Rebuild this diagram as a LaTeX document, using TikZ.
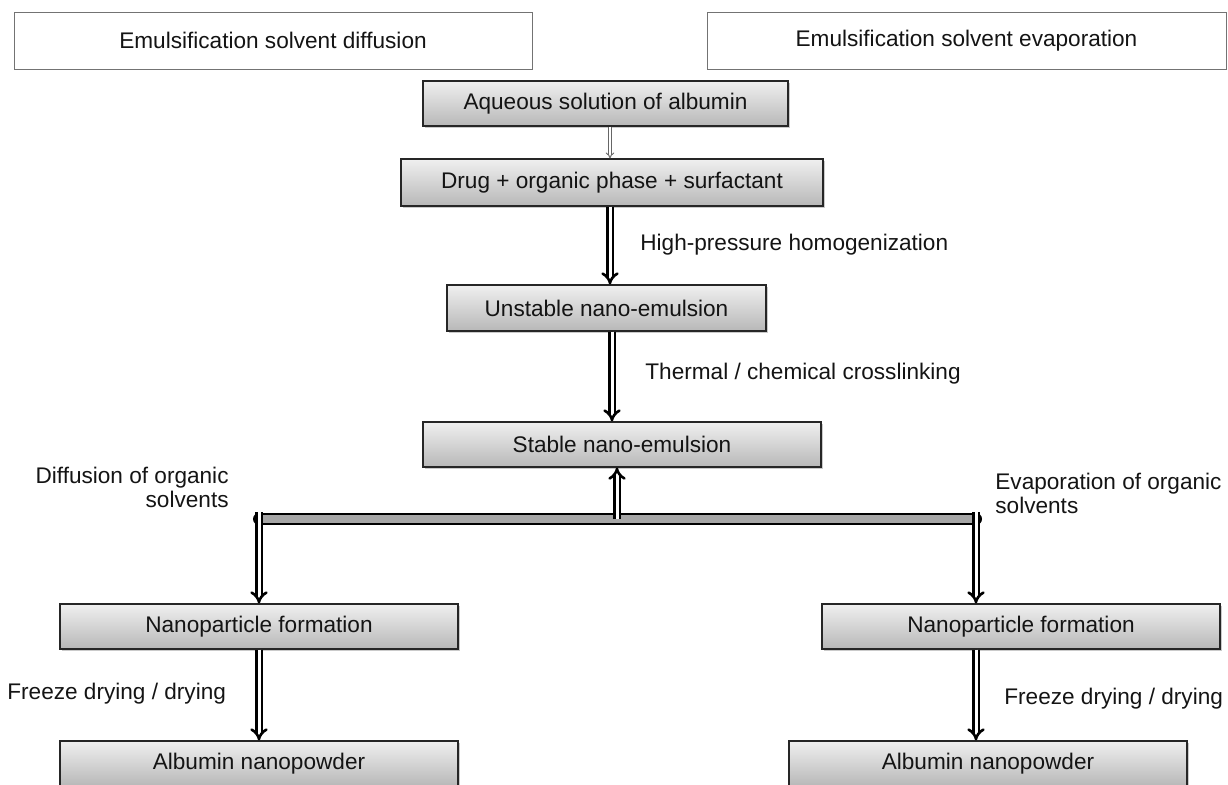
\documentclass[tikz,border=0pt]{standalone}
\usepackage{fontspec}
\setmainfont{Liberation Sans}
\usetikzlibrary{arrows.meta,shadows,calc}
\begin{document}
\begin{tikzpicture}[x=0.5pt,y=-0.5pt,
  every node/.style={font=\fontsize{11.3}{12}\selectfont, text=black!92},
  hdr/.style={draw=black!55, line width=0.5pt, fill=white, minimum height=28.5pt, inner sep=0pt},
  pbox/.style={draw=black!85, line width=0.6pt, top color=black!6, bottom color=black!28,
    minimum height=22.5pt, inner sep=0pt,
    drop shadow={shadow xshift=1pt, shadow yshift=-1.2pt, opacity=0.35, fill=black!60}},
  dbl/.style={draw=black, line width=1.3pt, double=white, double distance=1.5pt, -{Implies}},
  thin/.style={draw=black!60, line width=0.45pt, double=white, double distance=1pt, -{Implies}},
  bar/.style={draw=black, line width=1.1pt, double=black!35, double distance=3.8pt, line cap=round},
  lbl/.style={inner sep=0pt}
]
\useasboundingbox (0,0) rectangle (1228,784);

% header boxes
\node[hdr, minimum width=259pt] (hL) at (273,40.5) {Emulsification solvent diffusion};
\node[hdr, minimum width=259.5pt] (hR) at (966.5,40.5) {Emulsification solvent evaporation};

% process boxes
\node[pbox, minimum width=182.5pt] (aq) at (605.5,103.5) {Aqueous solution of albumin};
\node[pbox, minimum width=211pt, minimum height=23.5pt] (drug) at (612,182.5) {Drug + organic phase + surfactant};
\node[pbox, minimum width=159.5pt, minimum height=23pt] (unst) at (606.5,308) {Unstable nano-emulsion};
\node[pbox, minimum width=199pt] (stab) at (622,444.5) {Stable nano-emulsion};
\node[pbox, minimum width=199pt] (npL) at (259,626.5) {Nanoparticle formation};
\node[pbox, minimum width=199pt] (npR) at (1021,626.5) {Nanoparticle formation};
\node[pbox, minimum width=199pt] (alL) at (259,763.5) {Albumin nanopowder};
\node[pbox, minimum width=199pt] (alR) at (988,763.5) {Albumin nanopowder};

% arrow x positions
\coordinate (c1) at (610,0);
\coordinate (c2) at (612,0);
\coordinate (c3) at (617,0);
\coordinate (cL) at (259,0);
\coordinate (cR) at (976,0);
\coordinate (barL) at (259,519);
\coordinate (barR) at (976,519);
\coordinate (barM) at (617,519);
\coordinate (topL) at (259,512);
\coordinate (topR) at (976,512);

% main chain arrows
\draw[thin] (aq.south -| c1) -- (drug.north -| c1);
\draw[dbl] (drug.south -| c1) -- (unst.north -| c1);
\draw[dbl] (unst.south -| c2) -- (stab.north -| c2);

% branch
\draw[bar] (barL) -- (barR);
\draw[dbl] (barM) -- (stab.south -| c3);
\draw[dbl] (topL) -- (npL.north -| cL);
\draw[dbl] (topR) -- (npR.north -| cR);
\draw[dbl] (npL.south -| cL) -- (alL.north -| cL);
\draw[dbl] (npR.south -| cR) -- (alR.north -| cR);

% labels
\node[lbl, anchor=west] (hp) at (640,245) {High-pressure homogenization};
\node[lbl, anchor=west] (th) at (645,374) {Thermal / chemical crosslinking};
\node[lbl, anchor=east, align=right, font=\fontsize{11.3}{12}\selectfont] (dL) at (229,487) {Diffusion of organic\\solvents};
\node[lbl, anchor=west, align=left, font=\fontsize{11.3}{12}\selectfont] (eR) at (995,493) {Evaporation of organic\\solvents};
\node[lbl, anchor=west] (fL) at (7,694) {Freeze drying / drying};
\node[lbl, anchor=west] (fR) at (1004,699) {Freeze drying / drying};
\end{tikzpicture}
\end{document}
